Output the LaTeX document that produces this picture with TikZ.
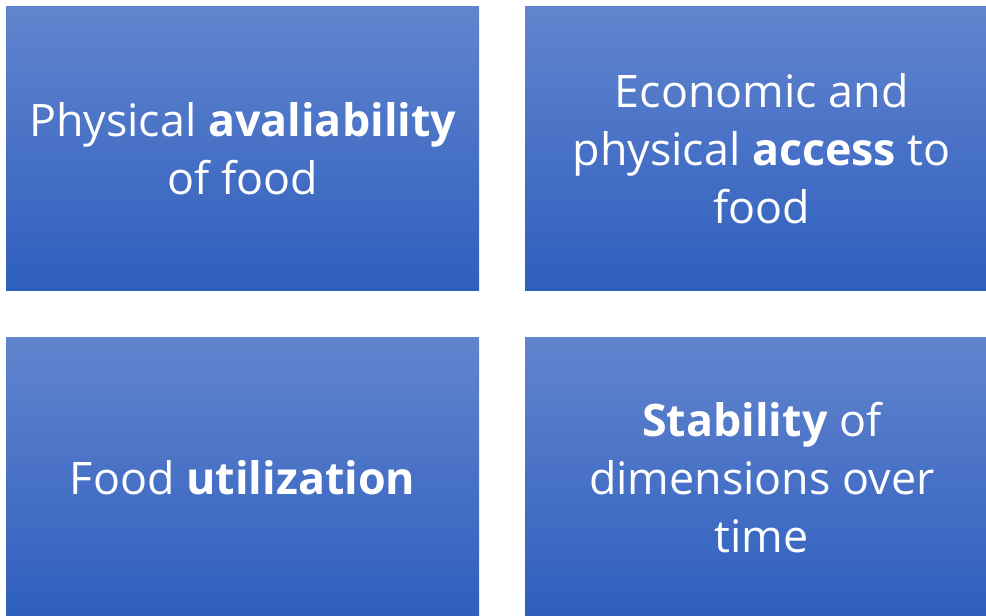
\documentclass[tikz,border=0pt]{standalone}
\usepackage{fontspec}
\setmainfont{Open Sans}
\definecolor{boxtop}{RGB}{98,132,206}
\definecolor{boxbot}{RGB}{46,95,190}
\tikzset{
  qbox/.style={draw=none, top color=boxtop, bottom color=boxbot, anchor=north west,
    inner sep=0pt, text=white, align=center, minimum width=473pt, minimum height=284pt,
    font=\fontsize{44.8}{58}\selectfont}
}
\begin{document}
\begin{tikzpicture}[x=1pt,y=1pt]
\useasboundingbox (0,0) rectangle (986,-616);
\clip (0,0) rectangle (986,-616);
\node[qbox] (avail) at (6,-6)
  {Physical \textbf{avaliability}\\of food};
\node[qbox] (access) at (525,-6)
  {Economic and\\physical \textbf{access} to\\food};
\node[qbox, minimum height=280pt] (util) at (6,-337)
  {Food \textbf{utilization}};
\node[qbox, minimum height=280pt] (stab) at (525,-337)
  {\textbf{Stability} of\\dimensions over\\time};
\end{tikzpicture}
\end{document}
